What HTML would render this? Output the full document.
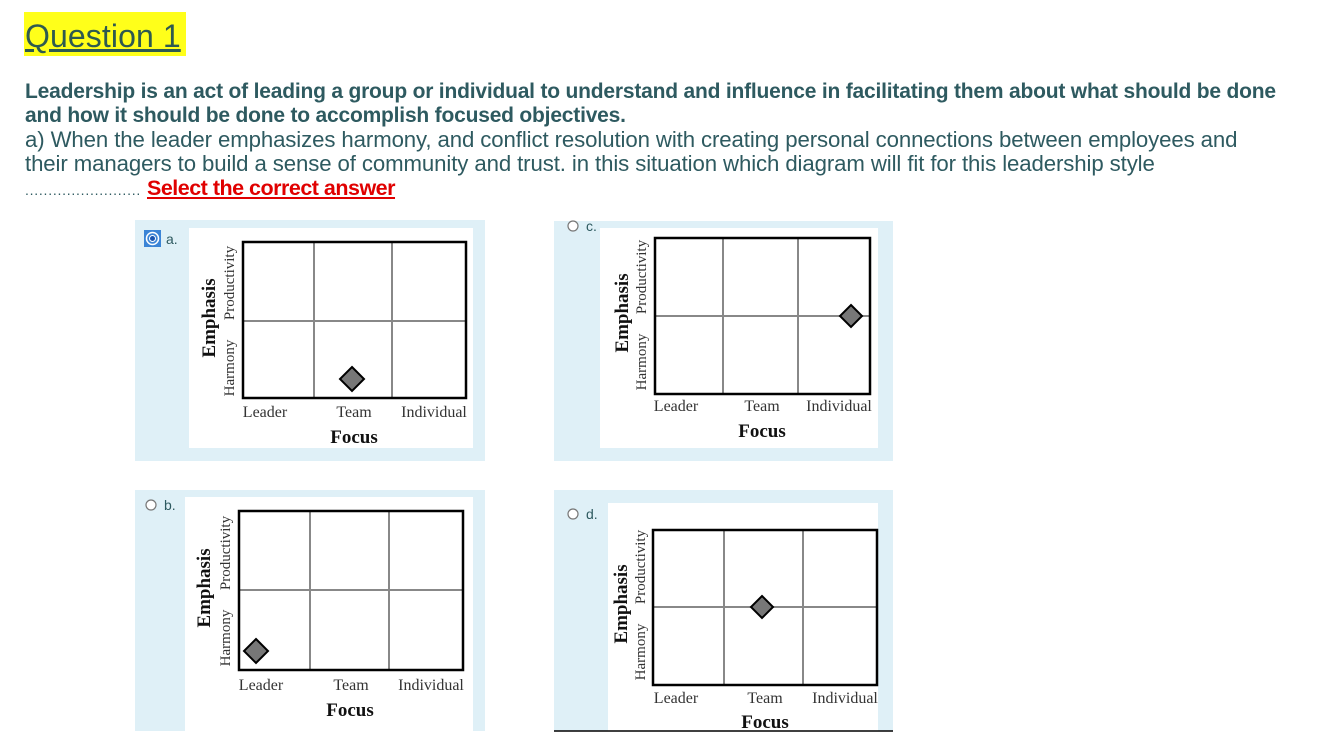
<!DOCTYPE html>
<html><head><meta charset="utf-8"><style>
body{margin:0;width:1325px;height:739px;background:#fff;position:relative;overflow:hidden;font-family:"Liberation Sans",sans-serif;color:#2e5a60}
.t{position:absolute;white-space:nowrap}
</style></head><body>
<div class="t" style="left:24px;top:12px;width:162px;height:44px;background:#ffff1a"></div>
<div class="t" style="left:25px;top:15px;font-size:32px;line-height:42px;text-decoration:underline;color:#2e5a50;letter-spacing:0.1px">Question 1</div>
<div class="t" style="left:25px;top:80px;font-size:21px;font-weight:bold;line-height:24px;letter-spacing:-0.2px">Leadership is an act of leading a group or individual to understand and influence in facilitating them about what should be done<br>and how it should be done to accomplish focused objectives.</div>
<div class="t" style="left:25px;top:128px;font-size:22.2px;line-height:24px;letter-spacing:-0.1px">a) When the leader emphasizes harmony, and conflict resolution with creating personal connections between employees and<br>their managers to build a sense of community and trust. in this situation which diagram will fit for this leadership style</div>
<div class="t" style="left:25px;top:176px;font-size:20px;line-height:24px"><span style="font-size:14px;letter-spacing:0.75px">.........................</span><span style="color:#e00000;font-weight:bold;text-decoration:underline;letter-spacing:-0.5px;font-size:21.5px;margin-left:6px">Select the correct answer</span></div>

<svg width="1325" height="739" style="position:absolute;left:0;top:0" font-family="Liberation Serif,serif" fill="#333">
<!-- a -->
<rect x="135" y="220" width="350" height="241" fill="#dff0f7"/>
<rect x="189" y="228" width="284" height="220" fill="#fff"/>
<rect x="144" y="230" width="17" height="17" fill="#3b84d6"/>
<circle cx="152.5" cy="238.5" r="6" fill="none" stroke="#fff" stroke-width="1.5"/>
<circle cx="152.5" cy="238.5" r="3.5" fill="#fff"/><circle cx="152.5" cy="238.5" r="2.5" fill="#1a55b0"/>
<text x="166" y="244" font-family="Liberation Sans,sans-serif" font-size="14" fill="#2e5a60">a.</text>
<g stroke="#888" stroke-width="2"><line x1="314" y1="242" x2="314" y2="398"/><line x1="392" y1="242" x2="392" y2="398"/><line x1="243" y1="321" x2="466" y2="321"/></g>
<rect x="243" y="242" width="223" height="156" fill="none" stroke="#000" stroke-width="2.5"/>
<polygon points="352,367 364,379 352,391 340,379" fill="#777" stroke="#000" stroke-width="2"/>
<text x="265" y="417" font-size="16" text-anchor="middle">Leader</text><text x="354" y="417" font-size="16" text-anchor="middle">Team</text><text x="434" y="417" font-size="16" text-anchor="middle">Individual</text>
<text x="354" y="443" font-size="19" font-weight="bold" text-anchor="middle" fill="#111">Focus</text>
<text transform="translate(215,318) rotate(-90)" font-size="19" font-weight="bold" text-anchor="middle" fill="#111">Emphasis</text>
<text transform="translate(234,368) rotate(-90)" font-size="15" text-anchor="middle">Harmony</text>
<text transform="translate(234,283) rotate(-90)" font-size="15" text-anchor="middle">Productivity</text>

<!-- c -->
<rect x="554" y="221" width="339" height="240" fill="#dff0f7"/>
<rect x="600" y="228" width="278" height="220" fill="#fff"/>
<circle cx="573" cy="226" r="5" fill="#fff" stroke="#777" stroke-width="1.2"/>
<text x="586" y="231" font-family="Liberation Sans,sans-serif" font-size="14" fill="#2e5a60">c.</text>
<g stroke="#888" stroke-width="2"><line x1="723" y1="238" x2="723" y2="394"/><line x1="798" y1="238" x2="798" y2="394"/><line x1="655" y1="316" x2="870" y2="316"/></g>
<rect x="655" y="238" width="215" height="156" fill="none" stroke="#000" stroke-width="2.5"/>
<polygon points="851,305 862,316 851,327 840,316" fill="#777" stroke="#000" stroke-width="2"/>
<text x="676" y="411" font-size="16" text-anchor="middle">Leader</text><text x="762" y="411" font-size="16" text-anchor="middle">Team</text><text x="839" y="411" font-size="16" text-anchor="middle">Individual</text>
<text x="762" y="437" font-size="19" font-weight="bold" text-anchor="middle" fill="#111">Focus</text>
<text transform="translate(628,313) rotate(-90)" font-size="19" font-weight="bold" text-anchor="middle" fill="#111">Emphasis</text>
<text transform="translate(646,362) rotate(-90)" font-size="15" text-anchor="middle">Harmony</text>
<text transform="translate(646,277) rotate(-90)" font-size="15" text-anchor="middle">Productivity</text>

<!-- b -->
<rect x="135" y="490" width="350" height="241" fill="#dff0f7"/>
<rect x="185" y="497" width="288" height="234" fill="#fff"/>
<circle cx="151" cy="505" r="5" fill="#fff" stroke="#777" stroke-width="1.2"/>
<text x="164" y="510" font-family="Liberation Sans,sans-serif" font-size="14" fill="#2e5a60">b.</text>
<g stroke="#888" stroke-width="2"><line x1="310" y1="511" x2="310" y2="670"/><line x1="389" y1="511" x2="389" y2="670"/><line x1="239" y1="590" x2="463" y2="590"/></g>
<rect x="239" y="511" width="224" height="159" fill="none" stroke="#000" stroke-width="2.5"/>
<polygon points="256,639 268,651 256,663 244,651" fill="#777" stroke="#000" stroke-width="2"/>
<text x="261" y="690" font-size="16" text-anchor="middle">Leader</text><text x="351" y="690" font-size="16" text-anchor="middle">Team</text><text x="431" y="690" font-size="16" text-anchor="middle">Individual</text>
<text x="350" y="716" font-size="19" font-weight="bold" text-anchor="middle" fill="#111">Focus</text>
<text transform="translate(210,588) rotate(-90)" font-size="19" font-weight="bold" text-anchor="middle" fill="#111">Emphasis</text>
<text transform="translate(230,638) rotate(-90)" font-size="15" text-anchor="middle">Harmony</text>
<text transform="translate(230,553) rotate(-90)" font-size="15" text-anchor="middle">Productivity</text>

<!-- d -->
<rect x="554" y="490" width="339" height="241" fill="#dff0f7"/>
<rect x="608" y="503" width="270" height="228" fill="#fff"/>
<line x1="554" y1="731" x2="893" y2="731" stroke="#000" stroke-width="1.5"/>
<circle cx="573" cy="514" r="5" fill="#fff" stroke="#777" stroke-width="1.2"/>
<text x="586" y="519" font-family="Liberation Sans,sans-serif" font-size="14" fill="#2e5a60">d.</text>
<g stroke="#888" stroke-width="2"><line x1="724" y1="530" x2="724" y2="685"/><line x1="803" y1="530" x2="803" y2="685"/><line x1="653" y1="607" x2="877" y2="607"/></g>
<rect x="653" y="530" width="224" height="155" fill="none" stroke="#000" stroke-width="2.5"/>
<polygon points="762,596 773,607 762,618 751,607" fill="#777" stroke="#000" stroke-width="2"/>
<text x="676" y="703" font-size="16" text-anchor="middle">Leader</text><text x="765" y="703" font-size="16" text-anchor="middle">Team</text><text x="845" y="703" font-size="16" text-anchor="middle">Individual</text>
<text x="765" y="728" font-size="19" font-weight="bold" text-anchor="middle" fill="#111">Focus</text>
<text transform="translate(627,604) rotate(-90)" font-size="19" font-weight="bold" text-anchor="middle" fill="#111">Emphasis</text>
<text transform="translate(645,652) rotate(-90)" font-size="15" text-anchor="middle">Harmony</text>
<text transform="translate(645,567) rotate(-90)" font-size="15" text-anchor="middle">Productivity</text>
</svg>
</body></html>
